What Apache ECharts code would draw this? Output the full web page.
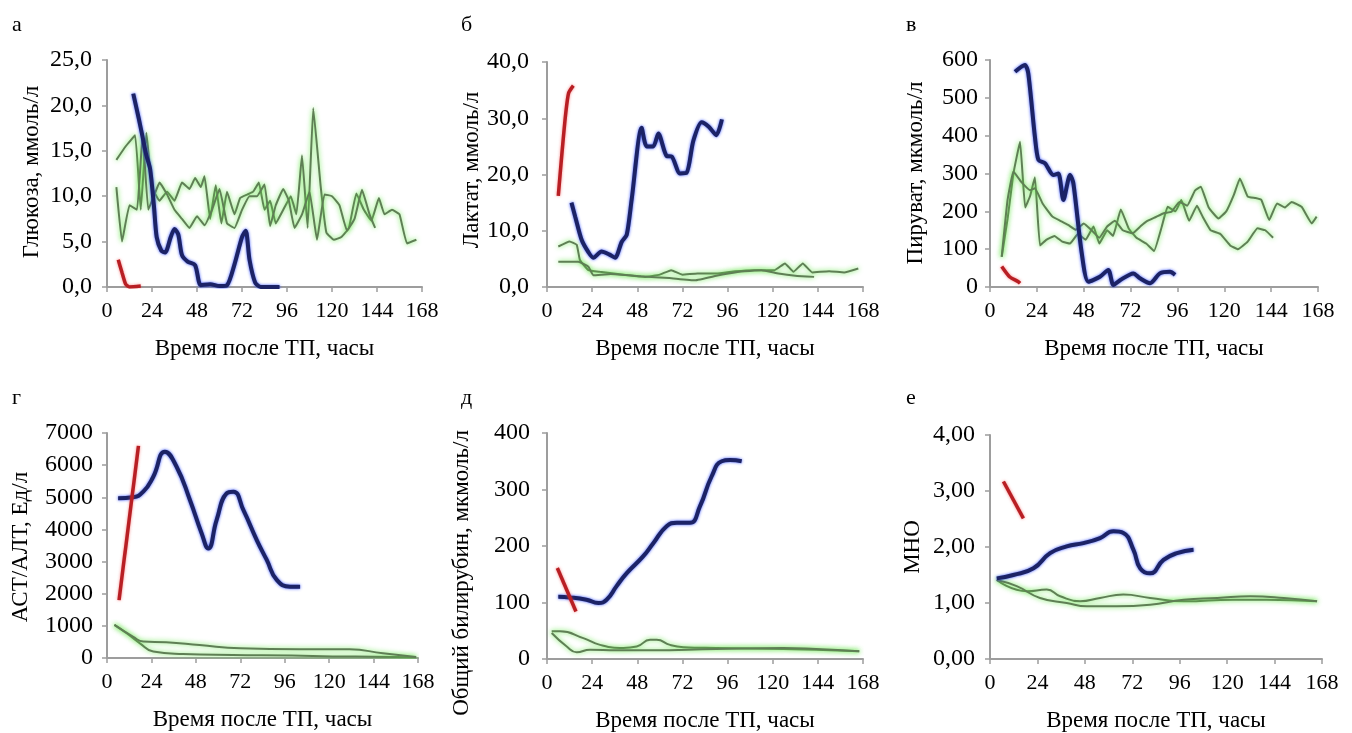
<!DOCTYPE html>
<html><head><meta charset="utf-8">
<script src="https://cdn.jsdelivr.net/npm/echarts@6/dist/echarts.min.js"></script>
<style>html,body{margin:0;padding:0;background:#fff}#c{width:1352px;height:733px}</style>
</head><body><div id="c"></div>
<script>
// ---- shared axis data ----
const xTicks = [0, 24, 48, 72, 96, 120, 144, 168];
const xTitle = 'Время после ТП, часы';
const panelLetters = ['а', 'б', 'в', 'г', 'д', 'е'];
const yTitles = ['Глюкоза, ммоль/л', 'Лактат, ммоль/л', 'Пируват, мкмоль/л', 'АСТ/АЛТ, Ед/л', 'Общий билирубин, мкмоль/л', 'МНО'];
const yMax = [25, 40, 600, 7000, 400, 4];
const yStep = [5, 10, 100, 1000, 100, 1];
const yDecimals = [1, 1, 0, 0, 0, 2];

// ---- а: glucose [hour, value] ----
const glucoseRed = [[6,3.0],[8,1.6],[10,0.3],[12,0],[18,0.1]];
const glucoseBlue = [[14,21.3],[17,18.5],[19,16.5],[21,14.5],[23,13],[25,9],[26.5,5.5],[29,4],[31,3.8],[34,5.5],[36,6.4],[38,5.8],[40,3.5],[43,2.8],[47,2.4],[50,0.2],[55,0.3],[60,0.1],[64,0.2],[68,2.5],[72,5.5],[74,6.2],[76,3],[79,0.5],[82,0],[92,0]];
const glucoseGreenA = [[5,14],[10,15.5],[15,16.7],[18,8.5],[21,17],[24,11],[28,9.5],[32,10.5],[36,9.5],[40,11.5],[44,10.8],[47,12],[50,11],[52,12.2],[55,7.5],[58,11.2],[61,7],[64,10.5],[68,8],[71,9.8],[75,10.2],[78,10.5],[81,11.5],[84,8.5],[87,9.5],[90,7],[94,8.5],[98,10],[101,8],[104,14.5],[107,6.5],[110,19.7],[114,11],[117,6],[121,5.2],[125,5.5],[129,6.5],[133,10.3],[137,8.5],[141,7.3],[145,9.8],[148,8],[152,8.5],[156,8],[160,4.8],[165,5.2]];
const glucoseGreenB = [[5,11],[8,5],[12,9],[16,8.5],[19,16.8],[22,8.5],[25,10],[28,11.5],[32,10.2],[36,8.5],[40,7.5],[44,6.5],[48,7.8],[52,6.8],[56,8.5],[60,10.8],[64,7],[68,6.5],[72,8.5],[76,10],[80,10],[84,11.3],[87,6.7],[90,9],[94,10.8],[97,9.5],[100,6.5],[104,8],[108,10.5],[112,5.2],[116,10.2],[120,10],[124,9],[128,6.2],[132,7.5],[136,10.7],[140,8],[143,6.5]];

// ---- б: lactate ----
const lactateRed = [[6,16.2],[8,24],[10,31],[11.5,34.5],[14,35.8]];
const lactateBlue = [[13,15],[15,12.5],[18.4,8.4],[22,6.2],[24.6,5.2],[29,6.3],[33,5.8],[36.2,5.2],[39.7,8],[42.4,9.3],[45,15.5],[50.3,28.3],[53,25],[56.5,25],[59.2,27.3],[63.6,23.3],[66.3,23.2],[70.7,20.2],[74.2,20.3],[77.8,26],[82.2,29.3],[86,28.5],[90,27],[93,29.8]];
const lactateGreenA = [[6,7.2],[12,8.1],[15.8,7.5],[17.5,4.8],[22,3],[28,2.7],[43,2.1],[52,1.8],[60,2.2],[66,3],[72,2.2],[80,2.4],[90,2.4],[100,2.8],[110,3],[121,3],[126.5,4.2],[131,2.7],[136,4.2],[141,2.6],[150,2.8],[158,2.6],[165.5,3.3]];
const lactateGreenB = [[6,4.5],[16.7,4.5],[22,3.6],[24.6,2.1],[34,2.3],[50,1.9],[65,1.6],[78.7,1.2],[90,2],[96.4,2.4],[105,2.8],[114,3],[123,2.4],[132,2],[142,1.8]];

// ---- в: pyruvate ----
const pyruvateRed = [[6,54],[10,27],[14.5,14],[15.4,10]];
const pyruvateBlue = [[12.8,569],[17.9,587],[19.6,565],[23,397],[24.8,336],[28.2,327],[32.4,296],[35,300],[37.6,230],[41,296],[42.7,274],[47,89],[50.4,14],[56.3,27],[60.6,45],[63.2,5],[66.6,18],[73.4,36],[76.8,23],[82,10],[87,36],[92.2,40],[94.8,32]];
const pyruvateGreenA = [[6,80],[9,180],[12,300],[15.4,384],[18,210],[20.5,240],[23,290],[25.6,110],[29,125],[33,135],[37,120],[41,115],[45,140],[49,125],[53,160],[56,115],[60,150],[63,135],[67,205],[71,155],[75,130],[80,115],[84,95],[88,160],[91,212],[95,200],[98,230],[102,175],[106,215],[109,185],[113,150],[118,140],[123,110],[127,100],[132,120],[137,155],[141,150],[145,130]];
const pyruvateGreenB = [[6,80],[9,230],[12,305],[16,278],[20.5,256],[23,261],[27,220],[32,186],[36,175],[40,164],[44,151],[48,168],[52,150],[56,130],[60,160],[64,175],[68,150],[73,142],[77,160],[80,173],[85,185],[89,195],[93,199],[97,225],[101,215],[105,255],[108,265],[112,210],[117,181],[121,200],[125,245],[128,287],[132,239],[136,235],[139,230],[143,177],[147,221],[151,210],[154.5,225],[159.6,212],[164.8,168],[167.3,186]];

// ---- г: AST/ALT ----
const astRed = [[6.5,1800],[17,6600]];
const astBlue = [[6,4970],[14,5000],[19.6,5175],[25,5640],[31.3,6420],[37.6,5950],[44.8,4915],[51.1,3880],[54.7,3410],[59.2,4290],[64.6,5120],[68.3,5175],[73.7,4600],[80.9,3670],[86.3,3050],[91.7,2430],[98.9,2220],[104.3,2220]];
const astGreenA = [[4,1030],[10.6,770],[17.8,456],[25,200],[41,125],[68,95],[100,80],[122,50],[145,40],[167,20]];
const astGreenB = [[4,1030],[14.2,660],[19.6,510],[32,490],[50,404],[72,300],[104,270],[131,270],[149,145],[167,30]];

// ---- д: bilirubin ----
const biliRed = [[5.5,161],[15.4,84]];
const biliBlue = [[6,110],[12.2,109],[21,105],[27.3,99],[31.7,105],[37,129],[42.4,152],[51.2,182],[56.5,205],[63.6,235],[69,241],[76,241],[81.3,270],[87.5,323],[92.9,350],[97.3,352],[103.5,350]];
const biliGreenA = [[2.5,49],[6.9,49],[19.3,37],[28.2,25],[40.6,19.5],[47.7,22],[54.8,34],[58.3,34],[65.4,25],[72.5,21],[90,19.5],[125.6,17.7],[143,16.5],[166,13.6]];
const biliGreenB = [[2.5,46],[10.5,22],[15.8,12],[22.9,16.5],[37,15.3],[54.8,15.3],[90,17.7],[125.6,19.5],[143,17.7],[166,13.6]];

// ---- е: INR ----
const inrRed = [[6.8,3.17],[16.9,2.51]];
const inrBlue = [[3.4,1.44],[11.8,1.5],[22,1.62],[30.4,1.89],[38.8,2.01],[47.3,2.07],[55.7,2.16],[62.5,2.28],[67.5,2.25],[72.6,1.95],[76,1.62],[81,1.53],[87.8,1.77],[94.6,1.89],[103,1.95]];
const inrGreenA = [[3.4,1.41],[18.6,1.21],[28.7,1.24],[35.5,1.12],[45.6,1.03],[55.7,1.09],[67.5,1.15],[81,1.09],[98,1.03],[123,1.06],[140,1.06],[165.5,1.03]];
const inrGreenB = [[3.4,1.41],[13.5,1.3],[25.3,1.09],[38.8,1.0],[49,0.94],[64,0.94],[81,0.97],[98,1.06],[115,1.09],[131.7,1.12],[148.6,1.09],[165.5,1.03]];

const panelSeries = [
  [glucoseRed, glucoseBlue, glucoseGreenA, glucoseGreenB],
  [lactateRed, lactateBlue, lactateGreenA, lactateGreenB],
  [pyruvateRed, pyruvateBlue, pyruvateGreenA, pyruvateGreenB],
  [astRed, astBlue, astGreenA, astGreenB],
  [biliRed, biliBlue, biliGreenA, biliGreenB],
  [inrRed, inrBlue, inrGreenA, inrGreenB]
];

// ---- layout ----
const grids = [
  {left:107, top:60, width:315, height:227},
  {left:547, top:62, width:316, height:225},
  {left:990, top:60, width:328, height:227},
  {left:107, top:433, width:311, height:225},
  {left:547, top:433, width:316, height:226},
  {left:990, top:435, width:332, height:224}
];
const yTitlePos = [[32,172],[472,170],[916,173],[21,547],[462,573],[913,547]];
const yLabelSize = [24, 24, 24, 24, 24, 24];
const yLabelMargin = [15, 18, 12, 14, 17, 15];
const letterPos = [[7,9],[456,9],[901,9],[7,382],[456,382],[901,382]];
const FONT = "'Liberation Serif','Times New Roman',serif";
const axisCol = '#9d9d9d';

const chart = echarts.init(document.getElementById('c'));
const xAxes = [], yAxes = [], series = [], titles = [], graphics = [];
grids.forEach((g, i) => {
  xAxes.push({
    type:'value', gridIndex:i, min:0, max:168, interval:24,
    name:xTitle, nameLocation:'middle', nameGap:50,
    nameTextStyle:{fontFamily:FONT, fontSize:23, color:'#000'},
    axisLine:{show:true, lineStyle:{color:axisCol, width:2}},
    axisTick:{show:true, length:5, lineStyle:{color:axisCol, width:1.5}},
    splitLine:{show:false},
    axisLabel:{fontFamily:FONT, fontSize:22, color:'#000', margin:13,
      formatter:v => xTicks.includes(v) ? String(v) : ''}
  });
  yAxes.push({
    type:'value', gridIndex:i, min:0, max:yMax[i], interval:yStep[i],
    axisLine:{show:true, lineStyle:{color:axisCol, width:2}},
    axisTick:{show:true, length:5, lineStyle:{color:axisCol, width:1.5}},
    splitLine:{show:false},
    axisLabel:{fontFamily:FONT, fontSize:yLabelSize[i], color:'#000', margin:yLabelMargin[i],
      formatter:v => v.toFixed(yDecimals[i]).replace('.', ',')}
  });
  graphics.push({
    type:'text', x:yTitlePos[i][0], y:yTitlePos[i][1], rotation:Math.PI / 2,
    style:{text:yTitles[i], fontFamily:FONT, fontSize:23, fill:'#000', align:'center', verticalAlign:'middle'}
  });
  titles.push({text:panelLetters[i], left:letterPos[i][0], top:letterPos[i][1],
    textStyle:{fontFamily:FONT, fontSize:22, fontWeight:'normal', color:'#000'}});
  const [red, blue, gA, gB] = panelSeries[i];
  const smoothBlue = i >= 3 ? 0.5 : 0.25;
  const smoothGreen = i >= 3 ? 0.5 : 0.1;
  [gA, gB].forEach(d => series.push({
    type:'line', xAxisIndex:i, yAxisIndex:i, data:d, symbol:'none', smooth:smoothGreen,
    lineStyle:{color:'#5f7f55', width:2, shadowColor:'rgba(90,230,60,0.9)', shadowBlur:5},
    z:2
  }));
  series.push({
    type:'line', xAxisIndex:i, yAxisIndex:i, data:blue, symbol:'none', smooth:smoothBlue,
    lineStyle:{color:'#1c2366', width:4, shadowColor:'rgba(40,70,255,0.9)', shadowBlur:3},
    z:3
  });
  series.push({
    type:'line', xAxisIndex:i, yAxisIndex:i, data:red, symbol:'none', smooth:0.2,
    lineStyle:{color:'#b81f24', width:3.5, shadowColor:'rgba(240,60,60,0.6)', shadowBlur:3},
    z:4
  });
});

chart.setOption({
  animation:false,
  backgroundColor:'#fff',
  title:titles,
  graphic:graphics,
  grid:grids.map(g => Object.assign({containLabel:false}, g)),
  xAxis:xAxes, yAxis:yAxes, series:series
});
</script></body></html>
